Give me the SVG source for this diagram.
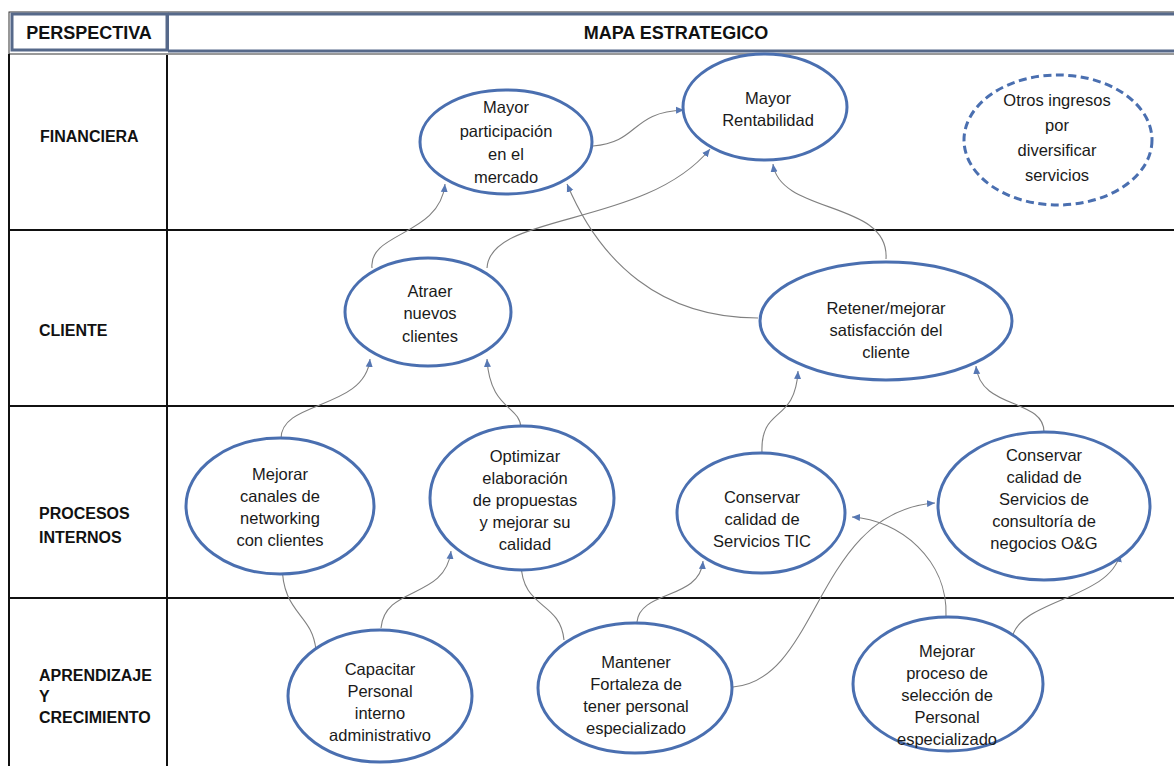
<svg xmlns="http://www.w3.org/2000/svg" width="1174" height="766" viewBox="0 0 1174 766">
  <style>
    .hdr { font-family: "Liberation Sans", Arial, sans-serif; font-weight: bold; font-size: 18px; fill: #111; }
    .lbl { font-family: "Liberation Sans", Arial, sans-serif; font-weight: bold; font-size: 16px; fill: #111; }
    .txt { font-family: "Liberation Sans", Arial, sans-serif; font-size: 16.5px; fill: #1a1a1a; text-anchor: middle; }
    .node { fill: #ffffff; stroke: #4a6fb0; stroke-width: 3; }
    .dash { stroke-dasharray: 8 4.5; }
    .grid { stroke: #111; stroke-width: 2; fill: none; }
    .link { fill: none; stroke: #808080; stroke-width: 1.1; marker-end: url(#arrow); }
  </style>
  <defs>
    <marker id="arrow" markerUnits="userSpaceOnUse" markerWidth="9" markerHeight="8" refX="8" refY="4" orient="auto">
      <path d="M0,0.5 L8,4 L0,7.5 z" fill="#5677b3"/>
    </marker>
  </defs>

  <rect width="1174" height="766" fill="#ffffff"/>

  <!-- header row -->
  <g id="header">
    <rect x="9" y="12" width="1170" height="42" fill="none" stroke="#333" stroke-width="1"/>
    <rect x="12" y="14" width="155" height="36" fill="#ffffff" stroke="#56698a" stroke-width="3"/>
    <line x1="168" y1="14" x2="1174" y2="14" stroke="#56698a" stroke-width="3"/>
    <line x1="168" y1="51" x2="1174" y2="51" stroke="#56698a" stroke-width="3"/>
    <line x1="168" y1="14" x2="168" y2="51" stroke="#56698a" stroke-width="2"/>
    <text class="hdr" x="89" y="39" text-anchor="middle">PERSPECTIVA</text>
    <text class="hdr" x="676" y="39" text-anchor="middle">MAPA ESTRATEGICO</text>
  </g>

  <!-- perspective grid -->
  <g id="grid">
    <line class="grid" x1="9" y1="54" x2="9" y2="766"/>
    <line class="grid" x1="167" y1="55" x2="167" y2="766"/>
    <line class="grid" x1="9" y1="230" x2="1174" y2="230"/>
    <line class="grid" x1="9" y1="406" x2="1174" y2="406"/>
    <line class="grid" x1="9" y1="598" x2="1174" y2="598"/>
    <text class="lbl" x="40" y="142">FINANCIERA</text>
    <text class="lbl" x="39" y="336">CLIENTE</text>
    <text class="lbl" x="39" y="519">PROCESOS</text>
    <text class="lbl" x="39" y="543">INTERNOS</text>
    <text class="lbl" x="39" y="681">APRENDIZAJE</text>
    <text class="lbl" x="39" y="702">Y</text>
    <text class="lbl" x="39" y="723">CRECIMIENTO</text>
  </g>

  <!-- connectors -->
  <g id="connectors">
    <path class="link" d="M593,146 C640,142 630,112 684,110"/>
    <path class="link" d="M372,268 C368,232 440,236 445,184"/>
    <path class="link" d="M487,268 C490,212 645,228 710,149"/>
    <path class="link" d="M758,318 C660,318 600,262 567,184"/>
    <path class="link" d="M886,259 C890,200 780,215 773,164"/>
    <path class="link" d="M281,439 C280,400 365,410 370,359"/>
    <path class="link" d="M521,428 C520,405 490,410 487,359"/>
    <path class="link" d="M762,453 C760,405 795,425 798,371"/>
    <path class="link" d="M1044,432 C1044,398 980,410 976,366"/>
    <path class="link" d="M316,650 C312,612 282,615 282,563"/>
    <path class="link" d="M381,628 C385,585 445,600 451,551"/>
    <path class="link" d="M564,640 C560,600 522,610 521,563"/>
    <path class="link" d="M637,622 C640,590 700,600 703,561"/>
    <path class="link" d="M733,687 C820,680 815,512 935,503"/>
    <path class="link" d="M946,616 C948,560 900,520 852,517"/>
    <path class="link" d="M1012,640 C1015,600 1110,600 1120,554"/>
  </g>

  <!-- financial perspective -->
  <g id="n-participacion">
    <ellipse class="node" cx="506" cy="142" rx="86" ry="52"/>
    <text class="txt" x="506" y="113">Mayor</text>
    <text class="txt" x="506" y="137">participación</text>
    <text class="txt" x="506" y="160">en el</text>
    <text class="txt" x="506" y="183">mercado</text>
  </g>
  <g id="n-rentabilidad">
    <ellipse class="node" cx="765" cy="107" rx="82" ry="53"/>
    <text class="txt" x="768" y="104">Mayor</text>
    <text class="txt" x="768" y="126">Rentabilidad</text>
  </g>
  <g id="n-otros">
    <ellipse class="node dash" cx="1058" cy="140" rx="94" ry="65"/>
    <text class="txt" x="1057" y="106">Otros ingresos</text>
    <text class="txt" x="1057" y="131">por</text>
    <text class="txt" x="1057" y="156">diversificar</text>
    <text class="txt" x="1057" y="181">servicios</text>
  </g>

  <!-- customer perspective -->
  <g id="n-atraer">
    <ellipse class="node" cx="428" cy="312" rx="83" ry="54"/>
    <text class="txt" x="430" y="297">Atraer</text>
    <text class="txt" x="430" y="319">nuevos</text>
    <text class="txt" x="430" y="342">clientes</text>
  </g>
  <g id="n-retener">
    <ellipse class="node" cx="886" cy="321" rx="126" ry="59"/>
    <text class="txt" x="886" y="314">Retener/mejorar</text>
    <text class="txt" x="886" y="336">satisfacción del</text>
    <text class="txt" x="886" y="358">cliente</text>
  </g>

  <!-- internal processes -->
  <g id="n-canales">
    <ellipse class="node" cx="280" cy="506" rx="94" ry="68"/>
    <text class="txt" x="280" y="480">Mejorar</text>
    <text class="txt" x="280" y="502">canales de</text>
    <text class="txt" x="280" y="524">networking</text>
    <text class="txt" x="280" y="546">con clientes</text>
  </g>
  <g id="n-optimizar">
    <ellipse class="node" cx="522" cy="498" rx="92" ry="72"/>
    <text class="txt" x="525" y="462">Optimizar</text>
    <text class="txt" x="525" y="484">elaboración</text>
    <text class="txt" x="525" y="506">de propuestas</text>
    <text class="txt" x="525" y="528">y mejorar su</text>
    <text class="txt" x="525" y="550">calidad</text>
  </g>
  <g id="n-tic">
    <ellipse class="node" cx="761" cy="513" rx="84" ry="60"/>
    <text class="txt" x="762" y="503">Conservar</text>
    <text class="txt" x="762" y="525">calidad de</text>
    <text class="txt" x="762" y="547">Servicios TIC</text>
  </g>
  <g id="n-og">
    <ellipse class="node" cx="1044" cy="506" rx="106" ry="74"/>
    <text class="txt" x="1044" y="461">Conservar</text>
    <text class="txt" x="1044" y="483">calidad de</text>
    <text class="txt" x="1044" y="505">Servicios de</text>
    <text class="txt" x="1044" y="527">consultoría de</text>
    <text class="txt" x="1044" y="549">negocios O&amp;G</text>
  </g>

  <!-- learning and growth -->
  <g id="n-capacitar">
    <ellipse class="node" cx="380" cy="696" rx="92" ry="66"/>
    <text class="txt" x="380" y="675">Capacitar</text>
    <text class="txt" x="380" y="697">Personal</text>
    <text class="txt" x="380" y="719">interno</text>
    <text class="txt" x="380" y="741">administrativo</text>
  </g>
  <g id="n-mantener">
    <ellipse class="node" cx="635" cy="688" rx="97" ry="65"/>
    <text class="txt" x="636" y="668">Mantener</text>
    <text class="txt" x="636" y="690">Fortaleza de</text>
    <text class="txt" x="636" y="712">tener personal</text>
    <text class="txt" x="636" y="734">especializado</text>
  </g>
  <g id="n-seleccion">
    <ellipse class="node" cx="948" cy="684" rx="95" ry="67"/>
    <text class="txt" x="947" y="657">Mejorar</text>
    <text class="txt" x="947" y="679">proceso de</text>
    <text class="txt" x="947" y="701">selección de</text>
    <text class="txt" x="947" y="723">Personal</text>
    <text class="txt" x="947" y="745">especializado</text>
  </g>
</svg>
